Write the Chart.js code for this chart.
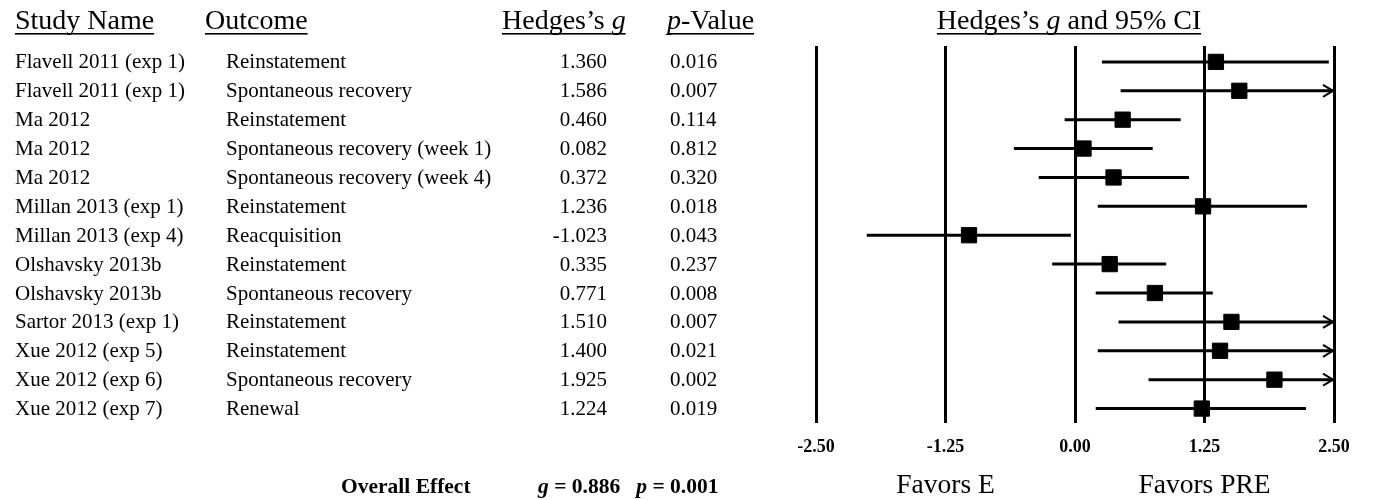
<!DOCTYPE html>
<html>
<head>
<meta charset="utf-8">
<script src="https://cdn.jsdelivr.net/npm/chart.js@4.4.1/dist/chart.umd.min.js"></script>
<style>
  html, body { margin: 0; padding: 0; background: #fff; }
  #wrap { position: relative; width: 1373px; height: 500px; }
</style>
</head>
<body>
<div id="wrap"><canvas id="c"></canvas></div>
<script>
// ---- data ----
const studyNames = [
  "Flavell 2011 (exp 1)", "Flavell 2011 (exp 1)", "Ma 2012", "Ma 2012", "Ma 2012",
  "Millan 2013 (exp 1)", "Millan 2013 (exp 4)", "Olshavsky 2013b", "Olshavsky 2013b",
  "Sartor 2013 (exp 1)", "Xue 2012 (exp 5)", "Xue 2012 (exp 6)", "Xue 2012 (exp 7)"
];
const outcomes = [
  "Reinstatement", "Spontaneous recovery", "Reinstatement",
  "Spontaneous recovery (week 1)", "Spontaneous recovery (week 4)",
  "Reinstatement", "Reacquisition", "Reinstatement", "Spontaneous recovery",
  "Reinstatement", "Reinstatement", "Spontaneous recovery", "Renewal"
];
const hedgesG = [1.360, 1.586, 0.460, 0.082, 0.372, 1.236, -1.023, 0.335, 0.771, 1.510, 1.400, 1.925, 1.224];
const pValues = ["0.016", "0.007", "0.114", "0.812", "0.320", "0.018", "0.043", "0.237", "0.008", "0.007", "0.021", "0.002", "0.019"];
const ciLow  = [0.26, 0.44, -0.10, -0.59, -0.35, 0.22, -2.01, -0.22, 0.20, 0.42, 0.22, 0.71, 0.20];
const ciHigh = [2.45, 2.50, 1.02, 0.75, 1.10, 2.24, -0.04, 0.88, 1.33, 2.50, 2.50, 2.50, 2.23];
const ciTruncated = [false, true, false, false, false, false, false, false, false, true, true, true, false];
const axisTicks = [-2.5, -1.25, 0, 1.25, 2.5];
const overallG = "0.886";
const overallP = "0.001";

// ---- datasets ----
const rows = hedgesG.map((_, i) => i + 1);
const ciDatasets = rows.map((r, i) => ({
  type: 'line',
  data: [{x: ciLow[i], y: r}, {x: ciHigh[i], y: r}],
  borderColor: '#000',
  borderWidth: 3,
  pointRadius: 0,
  borderCapStyle: 'butt',
  order: 2
}));
const pointDataset = {
  type: 'scatter',
  data: rows.map((r, i) => ({x: hedgesG[i], y: r})),
  pointStyle: 'rect',
  pointRadius: 10.8,
  pointHoverRadius: 10.8,
  backgroundColor: '#000',
  borderColor: '#000',
  borderWidth: 1,
  order: 0
};

const SERIF = '"Liberation Serif", "Times New Roman", serif';

function drawSegments(ctx, x, y, segs, align, underline) {
  let total = 0;
  segs.forEach(s => { ctx.font = s.f; s.w = ctx.measureText(s.t).width; total += s.w; });
  let sx = x;
  if (align === 'center') sx = x - total / 2;
  else if (align === 'right') sx = x - total;
  let cx = sx;
  ctx.textAlign = 'left';
  segs.forEach(s => { ctx.font = s.f; ctx.fillText(s.t, cx, y); cx += s.w; });
  if (underline) {
    ctx.fillRect(sx, y + underline.dy, total, underline.h);
  }
}

const tablePlugin = {
  id: 'table',
  afterDatasetsDraw(chart) {
    const ctx = chart.ctx;
    const xs = chart.scales.x, ys = chart.scales.y;
    ctx.save();
    ctx.strokeStyle = '#000';
    ctx.lineWidth = 2;
    ctx.lineCap = 'butt';
    ctx.lineJoin = 'miter';
    rows.forEach((r, i) => {
      if (!ciTruncated[i]) return;
      const px = xs.getPixelForValue(ciHigh[i]) - 1;
      const py = ys.getPixelForValue(r);
      ctx.beginPath();
      ctx.moveTo(px - 10, py - 6);
      ctx.lineTo(px, py);
      ctx.lineTo(px - 10, py + 6);
      ctx.stroke();
    });
    ctx.restore();
  },
  afterDraw(chart) {
    const ctx = chart.ctx;
    const ys = chart.scales.y;
    const xs = chart.scales.x;
    ctx.save();
    ctx.fillStyle = '#000';
    ctx.textBaseline = 'alphabetic';
    const hf = '28px ' + SERIF;
    const hfi = 'italic 28px ' + SERIF;
    const ul = {dy: 4, h: 1.6};
    const hy = 29;
    drawSegments(ctx, 15, hy, [{t: 'Study Name', f: hf}], 'left', ul);
    drawSegments(ctx, 205, hy, [{t: 'Outcome', f: hf}], 'left', ul);
    drawSegments(ctx, 502, hy, [{t: 'Hedges\u2019s ', f: hf}, {t: 'g', f: hfi}], 'left', ul);
    drawSegments(ctx, 667, hy, [{t: 'p', f: hfi}, {t: '-Value', f: hf}], 'left', ul);
    drawSegments(ctx, (xs.left + xs.right) / 2 - 6, hy,
      [{t: 'Hedges\u2019s ', f: hf}, {t: 'g', f: hfi}, {t: ' and 95% CI', f: hf}], 'center', ul);

    // rows
    const rf = '21px ' + SERIF;
    ctx.font = rf;
    ctx.textBaseline = 'middle';
    rows.forEach((r, i) => {
      const py = ys.getPixelForValue(r) + 1;
      ctx.textAlign = 'left';
      ctx.fillText(studyNames[i], 15, py);
      ctx.fillText(outcomes[i], 226, py);
      ctx.textAlign = 'right';
      ctx.fillText(hedgesG[i].toFixed(3), 607, py);
      ctx.textAlign = 'left';
      ctx.fillText(pValues[i], 670, py);
    });

    // bottom labels
    ctx.textBaseline = 'middle';
    const bf = 'bold 21.5px ' + SERIF;
    const bfi = 'bold italic 21.5px ' + SERIF;
    ctx.font = bf;
    ctx.textAlign = 'left';
    ctx.fillText('Overall Effect', 341, 487);
    drawSegments(ctx, 538, 487, [
      {t: 'g', f: bfi}, {t: ' = ' + overallG + '   ', f: bf},
      {t: 'p', f: bfi}, {t: ' = ' + overallP, f: bf}
    ], 'left', null);

    const ff = '27.5px ' + SERIF;
    ctx.font = ff;
    ctx.textAlign = 'center';
    ctx.fillText('Favors E', xs.getPixelForValue(-1.25), 486);
    ctx.fillText('Favors PRE', xs.getPixelForValue(1.25), 486);
    ctx.restore();
  }
};

new Chart(document.getElementById('c'), {
  type: 'scatter',
  data: { datasets: [...ciDatasets, pointDataset] },
  options: {
    responsive: true,
    maintainAspectRatio: false,
    animation: false,
    events: [],
    layout: { padding: { left: 816, right: 39, top: 46, bottom: 37 } },
    plugins: { legend: { display: false }, tooltip: { enabled: false } },
    scales: {
      x: {
        type: 'linear',
        min: -2.5,
        max: 2.5,
        afterFit(scale) { scale.height = 40; },
        afterBuildTicks(scale) { scale.ticks = axisTicks.map(v => ({value: v})); },
        ticks: {
          padding: 14,
          color: '#000',
          maxRotation: 0,
          autoSkip: false,
          font: { family: SERIF, size: 18, weight: 'bold' },
          callback: v => Number(v).toFixed(2)
        },
        grid: { color: '#000', lineWidth: 3, drawTicks: false },
        border: { display: false }
      },
      y: {
        type: 'linear',
        display: false,
        reverse: true,
        min: 0.45,
        max: 13.5
      }
    }
  },
  plugins: [tablePlugin]
});
</script>
</body>
</html>
